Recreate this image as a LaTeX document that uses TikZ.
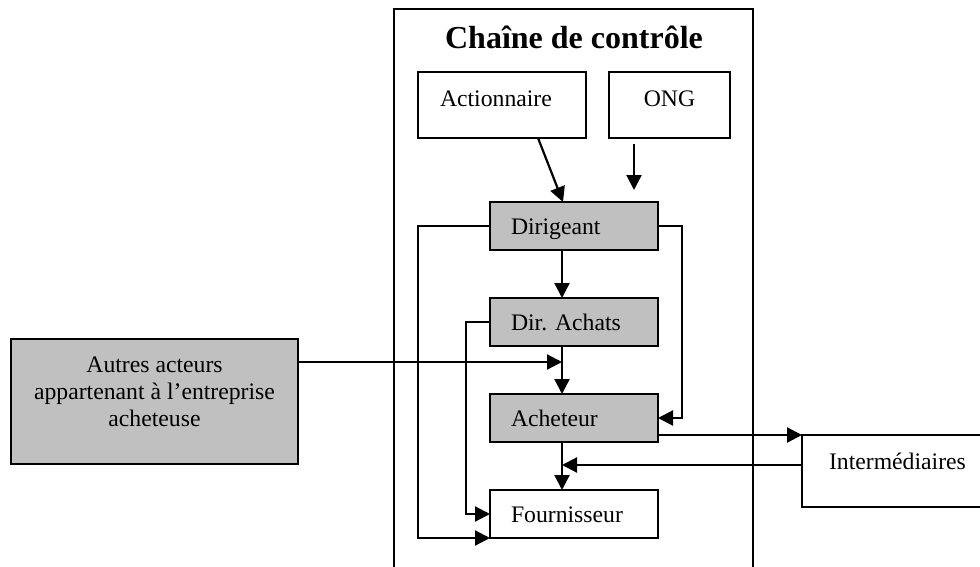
\documentclass[tikz,border=0pt]{standalone}
\usepackage{fontspec}
\setmainfont{Liberation Serif}
\usetikzlibrary{arrows.meta,calc}
\definecolor{boxgray}{HTML}{C0C0C0}
\begin{document}
\frenchspacing
\begin{tikzpicture}[x=1pt,y=-1pt,line width=2.2pt,
  box/.style={draw,line width=2.2pt,inner ysep=0pt,outer sep=0pt,anchor=north west,font=\fontsize{23.7}{27}\selectfont},
  shaded/.style={fill=boxgray},
  chainbox/.style={box,minimum width=168pt,text width=126pt,inner xsep=21pt,align=left,text height=32pt,text depth=16pt},
  arr/.style={-{Triangle[length=15pt,width=15pt]}}]
\useasboundingbox (0,0) rectangle (980,567);
% frame
\draw[line width=2pt] (394,580) -- (394,9) -- (753,9) -- (753,580);
\node[font=\bfseries\fontsize{32}{38}\selectfont,anchor=base] (title) at (574,49) {Chaîne de contrôle};
% boxes
\node[box,minimum width=168pt,text width=124pt,inner xsep=22pt,align=left,text height=35pt,text depth=31pt] (act) at (418,72) {Actionnaire};
\node[box,minimum width=121pt,text height=35pt,text depth=31pt] (ong) at (609,72) {ONG};
\node[chainbox,shaded] (dir) at (490,202) {Dirigeant};
\node[chainbox,shaded] (dach) at (490,298) {Dir. Achats};
\node[chainbox,shaded] (ach) at (490,394) {Acheteur};
\node[chainbox] (four) at (490,490) {Fournisseur};
\node[box,shaded,minimum width=287pt,minimum height=125pt,
  label={[font=\fontsize{23.7}{27}\selectfont,align=center,yshift=10pt]center:{Autres acteurs\\appartenant à l’entreprise\\acheteuse}}] (aut) at (11,339) {};
\node[box,minimum width=210pt,text width=156pt,inner xsep=27pt,align=left,text height=34pt,text depth=38pt] (int) at (802,435) {Intermédiaires};
% connectors
\draw[arr] ($(act.south west)+(120,0)$) -- ($(dir.north west)+(73,0)$);
\draw[arr] ($(ong.south west)+(25,6)$) -- ($(dir.north west)+(144,-12)$);
\draw[arr] ($(dir.south west)+(72,0)$) -- ($(dach.north west)+(72,0)$);
\draw[arr] ($(dach.south west)+(72,0)$) -- ($(ach.north west)+(72,0)$);
\draw[arr] ($(ach.south west)+(72,0)$) -- ($(four.north west)+(72,0)$);
\draw[arr] ($(aut.north east)+(0,23)$) -- ($(dach.south west)+(72,16)$);
\draw[arr] (dir.west) -- ++(-72,0) |- (four.south west);
\draw[arr] (dach.west) -- ++(-24,0) |- (four.west);
\draw[arr] (dir.east) -- ++(24,0) |- (ach.east);
\draw[arr] ($(ach.south east)+(0,-7)$) -- (int.north west);
\draw[arr] ($(int.north west)+(0,30)$) -- ($(ach.south west)+(72,23)$);
\end{tikzpicture}
\end{document}
